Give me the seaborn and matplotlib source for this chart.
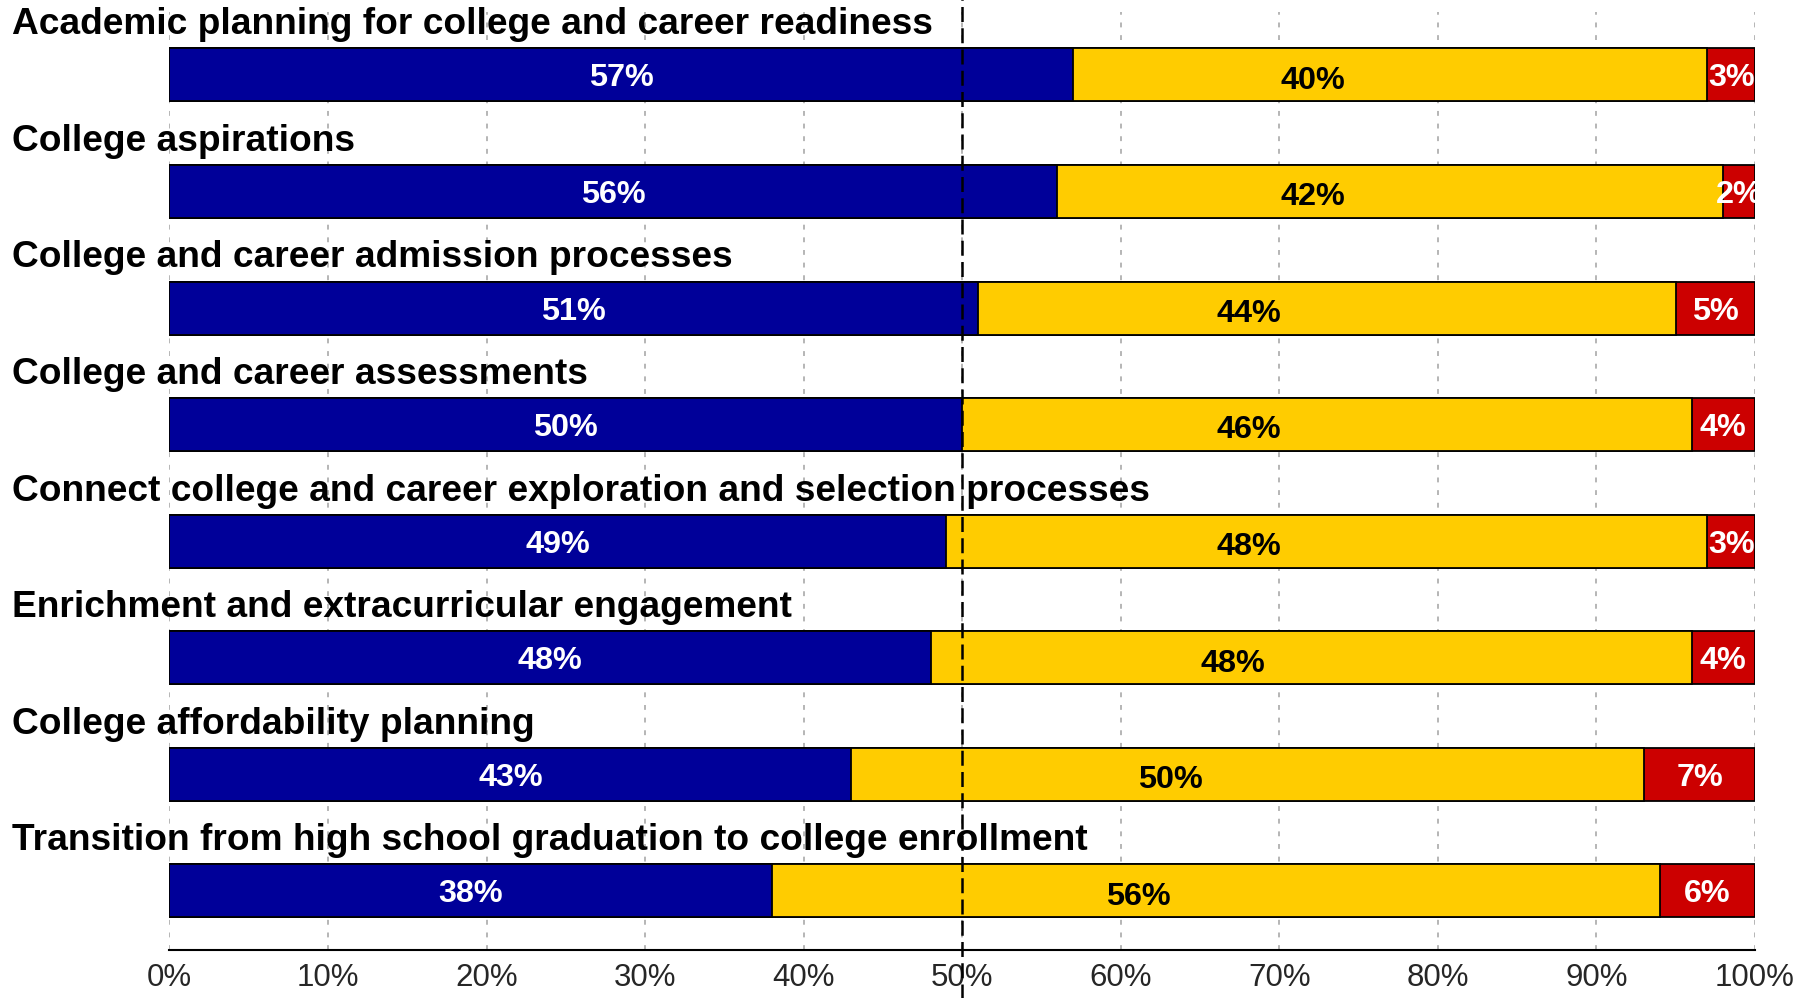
import numpy as np
import pandas as pd
import matplotlib
matplotlib.use("Agg")
import matplotlib.pyplot as plt
import matplotlib.transforms as mtransforms
import seaborn as sns

categories = [
    "Academic planning for college and career readiness",
    "College aspirations",
    "College and career admission processes",
    "College and career assessments",
    "Connect college and career exploration and selection processes",
    "Enrichment and extracurricular engagement",
    "College affordability planning",
    "Transition from high school graduation to college enrollment",
]
blue_vals = [57, 56, 51, 50, 49, 48, 43, 38]
yellow_vals = [40, 42, 44, 46, 48, 48, 50, 56]
red_vals = [3, 2, 5, 4, 3, 4, 7, 6]
tick_vals = [0, 10, 20, 30, 40, 50, 60, 70, 80, 90, 100]
tick_labels = [f"{v}%" for v in tick_vals]

C_BLUE = "#000099"
C_YELLOW = "#FFCC00"
C_RED = "#CC0000"

sns.set_style("white")
plt.rcParams["font.family"] = ["Liberation Sans", "DejaVu Sans"]

df = pd.DataFrame({"cat": categories, "blue": blue_vals,
                   "yellow": yellow_vals, "red": red_vals})
df["c1"] = df["blue"]
df["c2"] = df["blue"] + df["yellow"]
df["c3"] = df["c2"] + df["red"]

W, H = 1808, 998
fig = plt.figure(figsize=(W / 100, H / 100), dpi=100)
ax = fig.add_axes([169.5 / W, 48 / H, (1755 - 169.5) / W, (998 - 48 - 11.5) / H])

BW = 0.455
for col, color in [("c3", C_RED), ("c2", C_YELLOW), ("c1", C_BLUE)]:
    sns.barplot(data=df, x=col, y="cat", orient="h", color=color,
                edgecolor="black", linewidth=1.3, width=BW, errorbar=None,
                saturation=1, ax=ax, zorder=3)

ax.set_xlim(0, 100)
ax.set_ylim(7.507, -0.544)
ax.set_xlabel("")
ax.set_ylabel("")
ax.set_yticks([])
ax.set_xticks(tick_vals)
ax.set_xticklabels(tick_labels, fontsize=22.5)
ax.tick_params(axis="x", length=6, width=1.3, color="black", pad=3, direction="out")
for s in ["top", "right", "left"]:
    ax.spines[s].set_visible(False)
ax.spines["bottom"].set_linewidth(1.5)
ax.spines["bottom"].set_color("black")

ax.grid(False)
for v in tick_vals:
    ax.axvline(v, color="#b5b5b5", lw=1.4, ls=(0, (2.5, 4)), zorder=0)

# value labels
FS_V = 23.3
for i in range(len(categories)):
    b, y, r = blue_vals[i], yellow_vals[i], red_vals[i]
    ax.text(b / 2, i + 0.03, f"{b}%", ha="center", va="center", color="white",
            fontsize=FS_V, fontweight="bold", zorder=5, clip_on=True)
    ax.text(b + y / 2 - 4.9, i + 0.05, f"{y}%", ha="center", va="center", color="black",
            fontsize=FS_V, fontweight="bold", zorder=5, clip_on=True)
    ax.text(b + y + r / 2, i + 0.03, f"{r}%", ha="center", va="center", color="white",
            fontsize=FS_V, fontweight="bold", zorder=5, clip_on=True)

# category labels above bars
trans = mtransforms.blended_transform_factory(fig.transFigure, ax.transData)
for i, c in enumerate(categories):
    ax.text(11.5 / W, i - 0.43, c, transform=trans, ha="left", va="center",
            fontsize=26.7, fontweight="bold", color="black", zorder=6, clip_on=False)

ax.axvline(50, ymin=-0.06, ymax=1.02, color="black", lw=1.8,
           ls=(0, (6, 2.5)), zorder=7, clip_on=False)

fig.savefig("out.png", dpi=100)
